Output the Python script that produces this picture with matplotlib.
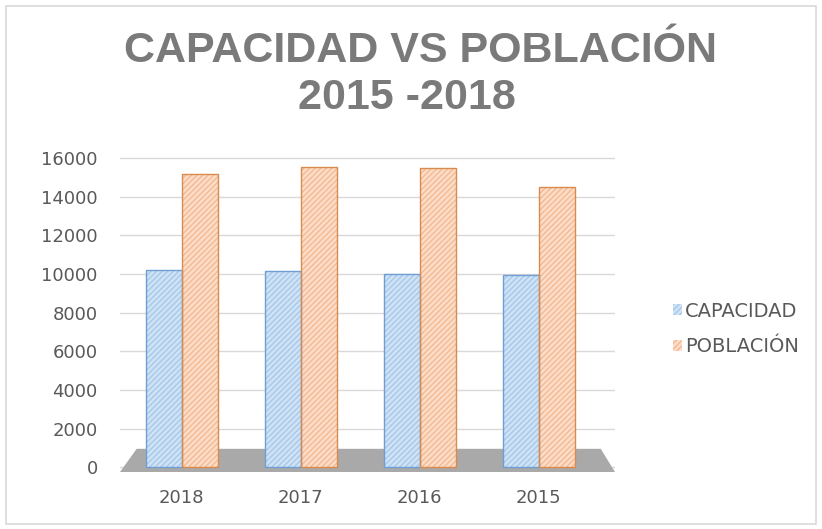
import matplotlib.pyplot as plt
from matplotlib.patches import Polygon, Rectangle
import numpy as np

plt.rcParams['font.family'] = ['DejaVu Sans']
plt.rcParams['hatch.linewidth'] = 0.8

years = ["2018", "2017", "2016", "2015"]
capacidad = [10200, 10150, 10000, 9950]
poblacion = [15150, 15550, 15480, 14500]
yticks = [0, 2000, 4000, 6000, 8000, 10000, 12000, 14000, 16000]

W, H = 822, 529
fig = plt.figure(figsize=(W / 100, H / 100), dpi=100)
fig.patch.set_facecolor("white")

# outer chart border
fig.patches.append(Rectangle((6 / W, 5 / H), 810 / W, 518 / H, transform=fig.transFigure,
                             fill=False, edgecolor="#d9d9d9", linewidth=1.2))

ax = fig.add_axes([120 / W, (H - 472) / H, 495 / W, (472 - 156) / H])

x = np.arange(len(years))
w = 0.3

# grey floor
floor = Polygon([(-0.52, -250), (3.64, -250), (3.52, 950), (-0.38, 950)],
                closed=True, facecolor="#a9a9a9", edgecolor="none", zorder=1)
ax.add_patch(floor)

ax.bar(x - w / 2, capacidad, w, color="#cfe2f5", edgecolor="#9fc4e8",
       hatch="//////", linewidth=0, zorder=3, label="CAPACIDAD")
ax.bar(x + w / 2, poblacion, w, color="#fcdcc6", edgecolor="#f2b48a",
       hatch="//////", linewidth=0, zorder=3, label="POBLACIÓN")
# darker outlines
ax.bar(x - w / 2, capacidad, w, fill=False, edgecolor="#6f9fd2", linewidth=1.0, zorder=4)
ax.bar(x + w / 2, poblacion, w, fill=False, edgecolor="#d98a4e", linewidth=1.0, zorder=4)

ax.set_xlim(-0.52, 3.64)
ax.set_ylim(-250, 16100)
ax.set_yticks(yticks)
ax.set_yticklabels([str(v) for v in yticks])
ax.set_xticks(x)
ax.set_xticklabels(years)
ax.tick_params(axis="both", length=0, labelsize=13, colors="#595959")
ax.tick_params(axis="y", pad=16)
ax.tick_params(axis="x", pad=12)
ax.grid(axis="y", color="#d9d9d9", linewidth=1.0, zorder=0)
ax.set_axisbelow(True)
for s in ax.spines.values():
    s.set_visible(False)

fig.text(420 / W, 1 - 51 / H, "CAPACIDAD VS POBLACIÓN", ha="center", va="center",
         fontsize=31, fontweight="bold", color="#7a7a7a", family="Liberation Sans")
fig.text(407 / W, 1 - 98 / H, "2015 -2018", ha="center", va="center",
         fontsize=31, fontweight="bold", color="#7a7a7a", family="Liberation Sans")

leg = fig.legend(loc="center left", bbox_to_anchor=(655 / W, 1 - 329 / H), frameon=False,
                 fontsize=14, handlelength=0.5, handleheight=0.5, handletextpad=0.15,
                 labelspacing=0.85, labelcolor="#595959")

fig.savefig("out.png", dpi=100)
